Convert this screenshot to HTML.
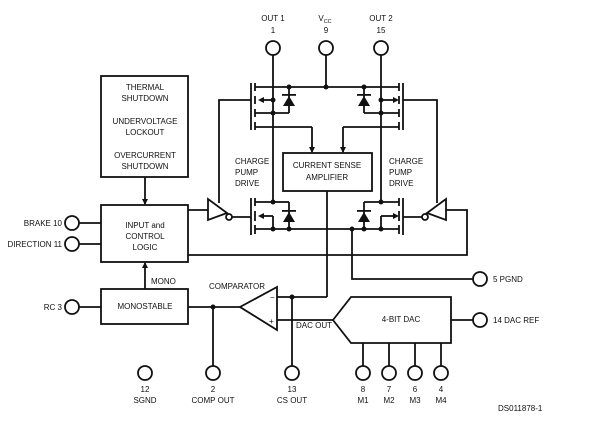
<!DOCTYPE html>
<html><head><style>
html,body{margin:0;padding:0;background:#fff;}
svg text{font-family:"Liberation Sans",sans-serif;font-size:8px;fill:#111;}
</style></head><body>
<svg width="603" height="419" viewBox="0 0 603 419" xmlns="http://www.w3.org/2000/svg">
<defs>
<marker id="ah" markerWidth="6" markerHeight="6" refX="5" refY="3" orient="auto" markerUnits="userSpaceOnUse"><path d="M0,0 L6,3 L0,6 z" fill="#111"/></marker>
</defs>
<g stroke="#111" stroke-width="1.8" fill="none">
<circle cx="273" cy="48" r="7"/><circle cx="326" cy="48" r="7"/><circle cx="381" cy="48" r="7"/>
<line x1="273" y1="55" x2="273" y2="202"/>
<line x1="326" y1="55" x2="326" y2="87"/>
<line x1="381" y1="55" x2="381" y2="202"/>
<line x1="251" y1="83" x2="251" y2="130"/>
<line x1="255" y1="83" x2="255" y2="91"/><line x1="255" y1="96" x2="255" y2="104"/><line x1="255" y1="109" x2="255" y2="117"/><line x1="255" y1="122" x2="255" y2="130"/>
<line x1="255" y1="87" x2="399" y2="87"/>
<line x1="260" y1="100" x2="273" y2="100"/>
<line x1="255" y1="113" x2="289" y2="113"/>
<line x1="289" y1="87" x2="289" y2="113"/>
<line x1="255" y1="127" x2="312" y2="127"/><line x1="312" y1="127" x2="312" y2="152" marker-end="url(#ah)"/>
<line x1="403" y1="83" x2="403" y2="130"/>
<line x1="399" y1="83" x2="399" y2="91"/><line x1="399" y1="96" x2="399" y2="104"/><line x1="399" y1="109" x2="399" y2="117"/><line x1="399" y1="122" x2="399" y2="130"/>
<line x1="381" y1="100" x2="394" y2="100"/>
<line x1="364" y1="113" x2="399" y2="113"/>
<line x1="364" y1="87" x2="364" y2="113"/>
<line x1="343" y1="127" x2="399" y2="127"/><line x1="343" y1="127" x2="343" y2="152" marker-end="url(#ah)"/>
<polyline points="251,100 219,100 219,203"/>
<polyline points="403,100 437,100 437,203"/>
<rect x="283" y="153" width="89" height="38"/>
<line x1="327" y1="191" x2="327" y2="297"/>
<line x1="251" y1="198" x2="251" y2="235"/>
<line x1="255" y1="198" x2="255" y2="206"/><line x1="255" y1="211" x2="255" y2="221"/><line x1="255" y1="225" x2="255" y2="234"/>
<line x1="255" y1="202" x2="273" y2="202"/>
<line x1="260" y1="216" x2="273" y2="216"/><line x1="273" y1="216" x2="273" y2="229"/>
<line x1="255" y1="229" x2="399" y2="229"/>
<line x1="273" y1="202" x2="289" y2="202"/><line x1="289" y1="202" x2="289" y2="229"/>
<line x1="403" y1="198" x2="403" y2="235"/>
<line x1="399" y1="198" x2="399" y2="206"/><line x1="399" y1="211" x2="399" y2="221"/><line x1="399" y1="225" x2="399" y2="234"/>
<line x1="364" y1="202" x2="399" y2="202"/><line x1="364" y1="202" x2="364" y2="229"/>
<line x1="381" y1="216" x2="394" y2="216"/><line x1="381" y1="216" x2="381" y2="229"/>
<polyline points="352,229 352,279 473,279"/>
<circle cx="480" cy="279" r="7"/>
<polygon points="208,199 208,220 227,213"/>
<circle cx="229" cy="217" r="3"/>
<line x1="232" y1="217" x2="251" y2="217"/>
<line x1="188" y1="210" x2="208" y2="210"/>
<polygon points="446,199 446,220 427,213"/>
<circle cx="425" cy="217" r="3"/>
<line x1="422" y1="217" x2="403" y2="217"/>
<polyline points="446,210 467,210 467,255 188,255"/>
<rect x="101" y="76" width="87" height="101"/>
<rect x="101" y="205" width="87" height="57"/>
<rect x="101" y="289" width="87" height="35"/>
<line x1="145" y1="177" x2="145" y2="204" marker-end="url(#ah)"/>
<line x1="145" y1="289" x2="145" y2="263" marker-end="url(#ah)"/>
<circle cx="72" cy="223" r="7"/><line x1="79" y1="223" x2="101" y2="223"/>
<circle cx="72" cy="244" r="7"/><line x1="79" y1="244" x2="101" y2="244"/>
<circle cx="72" cy="307" r="7"/><line x1="79" y1="307" x2="101" y2="307"/>
<line x1="188" y1="307" x2="240" y2="307"/>
<polygon points="240,307 277,287 277,330"/>
<line x1="213" y1="307" x2="213" y2="366"/><circle cx="213" cy="373" r="7"/>
<line x1="277" y1="297" x2="327" y2="297"/>
<line x1="292" y1="297" x2="292" y2="366"/><circle cx="292" cy="373" r="7"/>
<line x1="277" y1="320" x2="333" y2="320"/>
<circle cx="145" cy="373" r="7"/>
<polygon points="333,320 351,297 451,297 451,343 351,343"/>
<line x1="451" y1="320" x2="473" y2="320"/><circle cx="480" cy="320" r="7"/>
<line x1="363" y1="343" x2="363" y2="366"/><circle cx="363" cy="373" r="7"/>
<line x1="389" y1="343" x2="389" y2="366"/><circle cx="389" cy="373" r="7"/>
<line x1="415" y1="343" x2="415" y2="366"/><circle cx="415" cy="373" r="7"/>
<line x1="441" y1="343" x2="441" y2="366"/><circle cx="441" cy="373" r="7"/>
</g>
<g fill="#111">
<polygon points="258,100 264,97 264,103"/>
<polygon points="258,216 264,213 264,219"/>
<polygon points="399,100 393,97 393,103"/>
<polygon points="399,216 393,213 393,219"/>
<polygon points="283,106 295,106 289,96"/><rect x="282" y="94" width="14" height="1.8"/>
<polygon points="358,106 370,106 364,96"/><rect x="357" y="94" width="14" height="1.8"/>
<polygon points="283,222 295,222 289,212"/><rect x="282" y="210" width="14" height="1.8"/>
<polygon points="358,222 370,222 364,212"/><rect x="357" y="210" width="14" height="1.8"/>
<circle cx="326" cy="87" r="2.5"/><circle cx="289" cy="87" r="2.5"/><circle cx="364" cy="87" r="2.5"/>
<circle cx="273" cy="100" r="2.5"/><circle cx="273" cy="113" r="2.5"/>
<circle cx="381" cy="100" r="2.5"/><circle cx="381" cy="113" r="2.5"/>
<circle cx="273" cy="202" r="2.5"/><circle cx="381" cy="202" r="2.5"/>
<circle cx="273" cy="229" r="2.5"/><circle cx="289" cy="229" r="2.5"/>
<circle cx="352" cy="229" r="2.5"/><circle cx="364" cy="229" r="2.5"/><circle cx="381" cy="229" r="2.5"/>
<circle cx="213" cy="307" r="2.5"/><circle cx="292" cy="297" r="2.5"/>
</g>
<g text-anchor="middle">
<text x="273" y="21">OUT 1</text><text x="273" y="33">1</text>
<text x="325" y="21">V<tspan font-size="5.5" dy="2">CC</tspan></text><text x="326" y="33">9</text>
<text x="381" y="21">OUT 2</text><text x="381" y="33">15</text>
<text x="145" y="90">THERMAL</text><text x="145" y="101">SHUTDOWN</text>
<text x="145" y="124">UNDERVOLTAGE</text><text x="145" y="135">LOCKOUT</text>
<text x="145" y="158">OVERCURRENT</text><text x="145" y="169">SHUTDOWN</text>
<text x="145" y="228">INPUT and</text><text x="145" y="239">CONTROL</text><text x="145" y="250">LOGIC</text>
<text x="145" y="309">MONOSTABLE</text>
<text x="327" y="168">CURRENT SENSE</text><text x="327" y="180">AMPLIFIER</text>
<text x="401" y="322">4-BIT DAC</text>
<text x="145" y="392">12</text><text x="145" y="403">SGND</text>
<text x="213" y="392">2</text><text x="213" y="403">COMP OUT</text>
<text x="292" y="392">13</text><text x="292" y="403">CS OUT</text>
<text x="363" y="392">8</text><text x="363" y="403">M1</text>
<text x="389" y="392">7</text><text x="389" y="403">M2</text>
<text x="415" y="392">6</text><text x="415" y="403">M3</text>
<text x="441" y="392">4</text><text x="441" y="403">M4</text>
</g>
<text x="235" y="164">CHARGE</text><text x="235" y="175">PUMP</text><text x="235" y="186">DRIVE</text>
<text x="389" y="164">CHARGE</text><text x="389" y="175">PUMP</text><text x="389" y="186">DRIVE</text>
<g text-anchor="end">
<text x="62" y="226">BRAKE 10</text>
<text x="62" y="247">DIRECTION 11</text>
<text x="62" y="310">RC 3</text>
</g>
<text x="151" y="284">MONO</text>
<text x="209" y="289">COMPARATOR</text>
<text x="296" y="328">DAC OUT</text>
<text x="270" y="300" font-size="6">−</text><text x="269" y="324" font-size="6">+</text>
<text x="493" y="282">5 PGND</text>
<text x="493" y="323">14 DAC REF</text>
<text x="498" y="411" font-size="7.5">DS011878-1</text>
</svg>
</body></html>
